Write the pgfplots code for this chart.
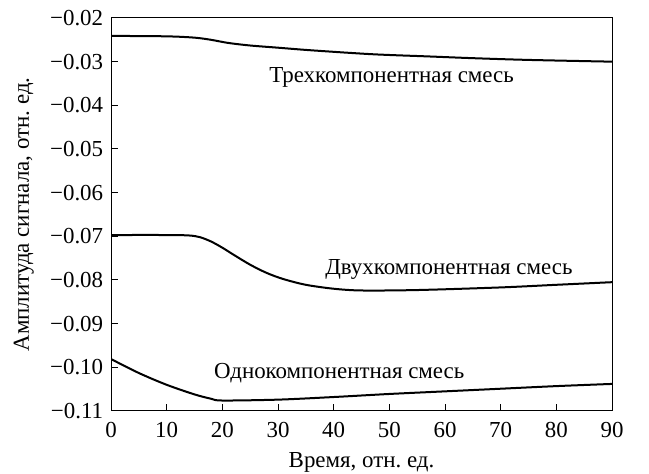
\documentclass[border=0pt]{standalone}
\usepackage{fontspec}
\setmainfont{Liberation Serif}
\usepackage{pgfplots}
\pgfplotsset{compat=1.18}
\usetikzlibrary{calc}
\frenchspacing
\begin{document}
\fontsize{23}{27}\selectfont
\begin{tikzpicture}
\begin{axis}[
  scale only axis, width=501bp, height=393bp,
  xmin=0, xmax=90, ymin=-0.11, ymax=-0.02,
  xtick={0,10,...,90},
  ytick={-0.11,-0.10,-0.09,-0.08,-0.07,-0.06,-0.05,-0.04,-0.03,-0.02},
  yticklabels={−0.11,−0.10,−0.09,−0.08,−0.07,−0.06,−0.05,−0.04,−0.03,−0.02},
  /pgf/number format/assume math mode=true,
  tick align=inside, xtick pos=left, ytick pos=left,
  major tick length=7bp,
  tick style={black, line width=1bp},
  axis line style={line width=1bp},
  every tick label/.append style={font=\fontsize{23}{27}\selectfont},
  xticklabel style={yshift=-3bp},
  xlabel={Время, отн. ед.},
  ylabel={Амплитуда сигнала, отн. ед.},
  label style={font=\fontsize{23}{27}\selectfont},
  xlabel style={at={(axis description cs:0.5,-0.131)}, anchor=center},
  ylabel style={at={(axis description cs:-0.174,0.5)}, anchor=center},
]
\addplot[black, line width=2bp, smooth, tension=0.5] coordinates {
(0,-0.0241)(10,-0.0242)(15,-0.0245)(18,-0.0250)(21,-0.0257)(25,-0.0263)(30,-0.0268)(36,-0.0274)(47,-0.0283)(57,-0.0288)(65,-0.0292)(75,-0.0296)(90,-0.0300)};
\addplot[black, line width=2bp, smooth, tension=0.5] coordinates {
(0,-0.0697)(10,-0.0697)(14,-0.0698)(16,-0.0702)(18,-0.0712)(20,-0.0726)(22,-0.0742)(25,-0.0765)(28,-0.0784)(31,-0.0798)(35,-0.0811)(40,-0.0820)(45,-0.0824)(55,-0.0823)(70,-0.0817)(80,-0.0811)(90,-0.0805)};
\addplot[black, line width=2bp, smooth, tension=0.5] coordinates {
(0,-0.0981)(5,-0.1013)(10,-0.1040)(15,-0.1062)(18,-0.1072)(20,-0.1076)(30,-0.1074)(40,-0.1068)(50,-0.1061)(60,-0.1055)(70,-0.1049)(80,-0.1043)(90,-0.1038)};
\node at (axis cs:50.4,-0.0337) {Трехкомпонентная смесь};
\node at (axis cs:60.7,-0.0775) {Двухкомпонентная смесь};
\node at (axis cs:41.0,-0.1014) {Однокомпонентная смесь};
\end{axis}
\pgfresetboundingbox
\path ($(current axis.south west)+(-111bp,-63bp)$) rectangle ($(current axis.north east)+(37bp,18bp)$);
\end{tikzpicture}
\end{document}
